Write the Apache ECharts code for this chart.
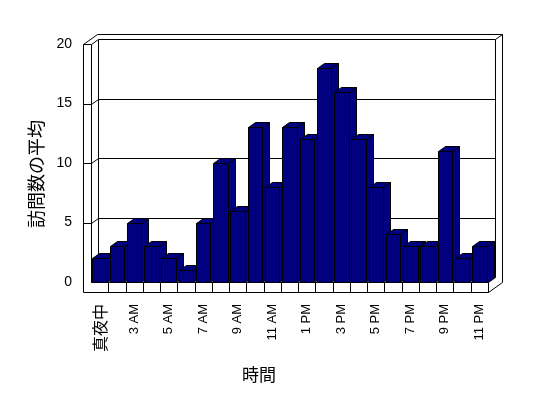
<!DOCTYPE html>
<html>
<head>
<meta charset="utf-8">
<script src="https://cdn.jsdelivr.net/npm/echarts@6/dist/echarts.min.js"></script>
<style>html,body{margin:0;padding:0;background:#fff}#c{width:548px;height:398px}</style>
</head>
<body>
<div id="c"></div>
<script>
const hours = ['真夜中','2 AM','3 AM','4 AM','5 AM','6 AM','7 AM','8 AM','9 AM','10 AM','11 AM','12 PM',
  '1 PM','2 PM','3 PM','4 PM','5 PM','6 PM','7 PM','8 PM','9 PM','10 PM','11 PM'];
const visits = [2,3,5,3,2,1,5,10,6,13,8,13,12,18,16,12,8,4,3,3,11,2,3];
const yTicks = [0,5,10,15,20];
const yTitle = '訪問数の平均';
const xTitle = '時間';

const DX = 7, DY = -5, WALL = 8, FLOOR = 10;
const BAR = '#000080';
const s = v => Math.round(v) + 0.5;

function line(pts) {
  return { type: 'polyline', shape: { points: pts.map(p => [s(p[0]), s(p[1])]) },
    style: { stroke: '#000', fill: null, lineWidth: 1 }, silent: true };
}

function renderFrame(params, api) {
  const n = hours.length;
  const bw = api.size([1, 0])[0];
  const L = api.coord([0, 0])[0] - bw / 2;
  const R = api.coord([n - 1, 0])[0] + bw / 2;
  const yb = api.coord([0, yTicks[0]])[1];
  const yt = api.coord([0, yTicks[yTicks.length - 1]])[1];
  const ch = [];
  ch.push(line([[L - WALL, yt], [L - WALL, yb + FLOOR]]));
  ch.push(line([[L, yt], [L, yb]]));
  ch.push(line([[L - WALL, yt], [L, yt]]));
  ch.push(line([[L - WALL, yt], [L - WALL + 2 * DX, yt + 2 * DY]]));
  ch.push(line([[L, yt], [L + DX, yt + DY]]));
  ch.push(line([[L - WALL + 2 * DX, yt + 2 * DY], [R + 2 * DX, yt + 2 * DY], [R + 2 * DX, yb + FLOOR + 2 * DY]]));
  ch.push(line([[L + DX, yt + DY], [R + DX, yt + DY], [R + DX, yb + DY]]));
  ch.push(line([[R + DX, yt + DY], [R + 2 * DX, yt + 2 * DY]]));
  ch.push(line([[L + DX, yt + DY], [L + DX, yb + DY]]));
  yTicks.slice(1, -1).forEach(t => {
    const y = api.coord([0, t])[1];
    ch.push(line([[L - WALL, y], [L, y], [L + DX, y + DY], [R + DX, y + DY]]));
  });
  ch.push(line([[L, yb], [R, yb], [R, yb + FLOOR]]));
  ch.push(line([[L - WALL, yb + FLOOR], [R, yb + FLOOR]]));
  ch.push(line([[L, yb], [L + DX, yb + DY], [R + DX, yb + DY]]));
  ch.push(line([[R, yb], [R + DX, yb + DY]]));
  ch.push(line([[R, yb + FLOOR], [R + 2 * DX, yb + FLOOR + 2 * DY]]));
  for (let i = 1; i < n; i++) {
    const x = L + i * bw;
    ch.push(line([[x, yb], [x, yb + FLOOR]]));
  }
  return { type: 'group', children: ch };
}

function renderBar(params, api) {
  const i = api.value(0), v = api.value(1);
  const top = api.coord([i, v]);
  const bot = api.coord([i, 0]);
  const w = api.size([1, 0])[0] * 0.84;
  const xl = Math.round(top[0] - w / 2) + 0.5, xr = Math.round(top[0] + w / 2) + 0.5;
  const yt = Math.round(top[1]) + 0.5, yb = Math.round(bot[1]) + 0.5;
  const st = { fill: BAR, stroke: '#000', lineWidth: 1 };
  return { type: 'group', children: [
    { type: 'polygon', shape: { points: [[xr, yt], [xr + DX, yt + DY], [xr + DX, yb + DY], [xr, yb]] }, style: st },
    { type: 'polygon', shape: { points: [[xl, yt], [xl + DX, yt + DY], [xr + DX, yt + DY], [xr, yt]] }, style: st },
    { type: 'polygon', shape: { points: [[xl, yt], [xr, yt], [xr, yb], [xl, yb]] }, style: st }
  ]};
}

const chart = echarts.init(document.getElementById('c'), null, { renderer: 'canvas' });
chart.setOption({
  animation: false,
  backgroundColor: '#fff',
  grid: { left: 91, right: 60, top: 44, bottom: 116 },
  xAxis: {
    type: 'category', data: hours,
    axisLine: { show: false }, axisTick: { show: false },
    axisLabel: {
      interval: 1, rotate: 90, margin: 22, color: '#000',
      fontSize: 13, fontFamily: 'Liberation Sans, Arial, sans-serif',
      formatter: v => v === hours[0] ? '{cjk|' + v + '}' : v,
      rich: { cjk: { fontSize: 16, fontFamily: 'Noto Sans CJK JP', color: '#000' } }
    }
  },
  yAxis: {
    type: 'value', min: yTicks[0], max: yTicks[yTicks.length - 1], interval: 5,
    axisLine: { show: false }, axisTick: { show: false }, splitLine: { show: false },
    axisLabel: { margin: 19, color: '#000', fontSize: 14, fontFamily: 'Liberation Sans, Arial, sans-serif' }
  },
  graphic: [
    { type: 'text', x: 36, y: 174, rotation: Math.PI / 2,
      style: { text: yTitle, fill: '#000', font: '18px "Noto Sans CJK JP"', textAlign: 'center', textVerticalAlign: 'middle' } },
    { type: 'text', x: 259, y: 375,
      style: { text: xTitle, fill: '#000', font: '17px "Noto Sans CJK JP"', textAlign: 'center', textVerticalAlign: 'middle' } }
  ],
  series: [
    { type: 'custom', z: 1, renderItem: renderFrame, data: [[0, 0]], silent: true, clip: false },
    { type: 'custom', z: 2, renderItem: renderBar, encode: { x: 0, y: 1 },
      data: visits.map((v, i) => [i, v]), clip: false }
  ]
});
</script>
</body>
</html>
